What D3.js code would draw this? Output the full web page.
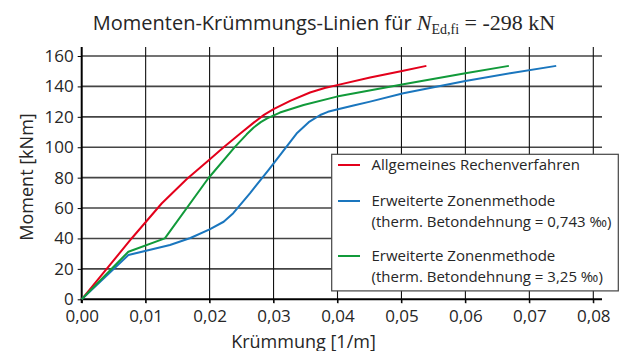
<!DOCTYPE html>
<html>
<head>
<meta charset="utf-8">
<script src="https://cdn.jsdelivr.net/npm/d3@7"></script>
<style>
    body{ margin: 0; background: #fff; }
    text{ font-family: "Open Sans", sans-serif; fill: #262626; }
    .axis path{ display: none; }
    .axis line{ stroke: #000; }
</style>
</head>
<body>
<div id="chart"></div>
<script>
// ************************** DATOS ******************************************

const xTicks = [0, 0.01, 0.02, 0.03, 0.04, 0.05, 0.06, 0.07, 0.08];
const xTickLabels = ["0,00", "0,01", "0,02", "0,03", "0,04", "0,05", "0,06", "0,07", "0,08"];
const yTicks = [0, 20, 40, 60, 80, 100, 120, 140, 160];

// Allgemeines Rechenverfahren
const redK = [0, 0.0078, 0.0125, 0.0164, 0.0200, 0.0222, 0.0248, 0.0270, 0.0285,
    0.0300, 0.0326, 0.0357, 0.0380, 0.0401, 0.0451, 0.0501, 0.0539];
const redM = [0, 40, 63, 79, 92, 100, 109, 116.5, 121.3,
    125, 130.5, 136, 139, 141, 145.8, 150.2, 153.5];

// Erweiterte Zonenmethode (0,743 ‰)
const blueK = [0, 0.0073, 0.0138, 0.0170, 0.0200, 0.0222, 0.0237, 0.0263, 0.0292,
    0.0305, 0.0336, 0.0355, 0.0373, 0.0385, 0.0399, 0.0425, 0.0451, 0.0503,
    0.0600, 0.0670, 0.0742];
const blueM = [0, 29.1, 35.7, 40.3, 46, 51, 56.6, 69.7, 85,
    92, 109, 116.5, 121.2, 123.3, 124.8, 127.5, 130, 135.5,
    143.6, 148.7, 153.5];

// Erweiterte Zonenmethode (3,25 ‰)
const greenK = [0, 0.0073, 0.0130, 0.0198, 0.0240, 0.0258, 0.0269, 0.0280, 0.0290,
    0.0310, 0.0347, 0.0399, 0.0503, 0.0600, 0.0668];
const greenM = [0, 31.3, 40.1, 79.6, 100.4, 108.5, 113, 116.5, 119,
    122.8, 127.8, 133.3, 141.4, 148.7, 153.5];

const seriesNames = [
    ["Allgemeines Rechenverfahren"],
    ["Erweiterte Zonenmethode", "(therm. Betondehnung = 0,743 ‰)"],
    ["Erweiterte Zonenmethode", "(therm. Betondehnung = 3,25 ‰)"]
];
const seriesColors = ["#e3001b", "#1a76be", "#119a3a"];

// ************************** GRÁFICO ****************************************

const W = 626, H = 351;
const x = d3.scaleLinear().domain([0, 0.08]).range([81.7, 593.3]);
const y = d3.scaleLinear().domain([0, 160]).range([299.3, 56]);

const svg = d3.select("#chart").append("svg")
    .attr("width", W).attr("height", H);

// rejilla horizontal
svg.append("g").selectAll("line")
    .data(yTicks.filter(d => d > 0))
    .enter().append("line")
    .attr("x1", x(0)).attr("x2", 602)
    .attr("y1", d => y(d)).attr("y2", d => y(d))
    .style("stroke", "#444").style("stroke-width", 1.6);

// rejilla vertical
svg.append("g").selectAll("line")
    .data(xTicks.filter(d => d > 0))
    .enter().append("line")
    .attr("x1", d => x(d)).attr("x2", d => x(d))
    .attr("y1", 47).attr("y2", 303)
    .style("stroke", "#111").style("stroke-width", 1.1);

// ejes
svg.append("line")
    .attr("x1", x(0)).attr("x2", x(0)).attr("y1", 47).attr("y2", 303)
    .style("stroke", "#000").style("stroke-width", 2);
svg.append("line")
    .attr("x1", x(0) - 1).attr("x2", 602).attr("y1", y(0)).attr("y2", y(0))
    .style("stroke", "#000").style("stroke-width", 2);

svg.append("g")
    .attr("class", "axis")
    .attr("transform", "translate(" + x(0) + ",0)")
    .call(d3.axisLeft(y).tickValues(yTicks).tickSize(4).tickPadding(4))
    .call(g => g.selectAll("text").style("font-size", "17px")
        .style("font-family", "'Open Sans', sans-serif").attr("fill", "#262626"));

svg.append("g")
    .attr("class", "axis")
    .attr("transform", "translate(0," + y(0) + ")")
    .call(d3.axisBottom(x).tickValues(xTicks).tickSize(4).tickPadding(7)
        .tickFormat((d, i) => xTickLabels[i]))
    .call(g => g.selectAll("text").style("font-size", "17px")
        .style("font-family", "'Open Sans', sans-serif").attr("fill", "#262626"));

// curvas
const line = d3.line()
    .x(d => x(d[0]))
    .y(d => y(d[1]));

const series = [
    d3.zip(redK, redM),
    d3.zip(blueK, blueM),
    d3.zip(greenK, greenM)
];

svg.append("g").selectAll("path")
    .data(series)
    .enter().append("path")
    .attr("d", line)
    .style("fill", "none")
    .style("stroke", (d, i) => seriesColors[i])
    .style("stroke-width", 2)
    .style("stroke-linejoin", "round");

// leyenda
const legend = svg.append("g");
legend.append("rect")
    .attr("x", 331.7).attr("y", 154.3)
    .attr("width", 286.6).attr("height", 136.6)
    .style("fill", "#fff").style("stroke", "#444").style("stroke-width", 1.2);

const legendY = [165, 201, 256];
seriesNames.forEach(function(names, i){
    legend.append("line")
        .attr("x1", 338).attr("x2", 360)
        .attr("y1", legendY[i]).attr("y2", legendY[i])
        .style("stroke", seriesColors[i]).style("stroke-width", 2);
    names.forEach(function(t, j){
        legend.append("text")
            .attr("x", 371.5).attr("y", legendY[i] + j * 20.7)
            .attr("dy", "0.35em")
            .style("font-size", "15px")
            .text(t);
    });
});

// títulos
const title = svg.append("text")
    .attr("x", 324).attr("y", 30)
    .attr("text-anchor", "middle")
    .style("font-size", "20px");
title.append("tspan").text("Momenten-Krümmungs-Linien für ");
title.append("tspan").text("N")
    .style("font-family", "'Liberation Serif', serif")
    .style("font-style", "italic").style("font-size", "22px");
title.append("tspan").text("Ed,fi")
    .style("font-family", "'Liberation Serif', serif")
    .style("font-size", "14px").attr("dy", 4);
title.append("tspan").text(" = -298 kN")
    .style("font-family", "'Liberation Serif', serif")
    .style("font-size", "22px").attr("dy", -4);

svg.append("text")
    .attr("x", 303.5).attr("y", 347.5)
    .attr("text-anchor", "middle")
    .style("font-size", "18px")
    .text("Krümmung [1/m]");

svg.append("text")
    .attr("transform", "translate(27,177) rotate(-90)")
    .attr("text-anchor", "middle")
    .attr("dy", "0.35em")
    .style("font-size", "18px")
    .text("Moment [kNm]");
</script>
</body>
</html>
